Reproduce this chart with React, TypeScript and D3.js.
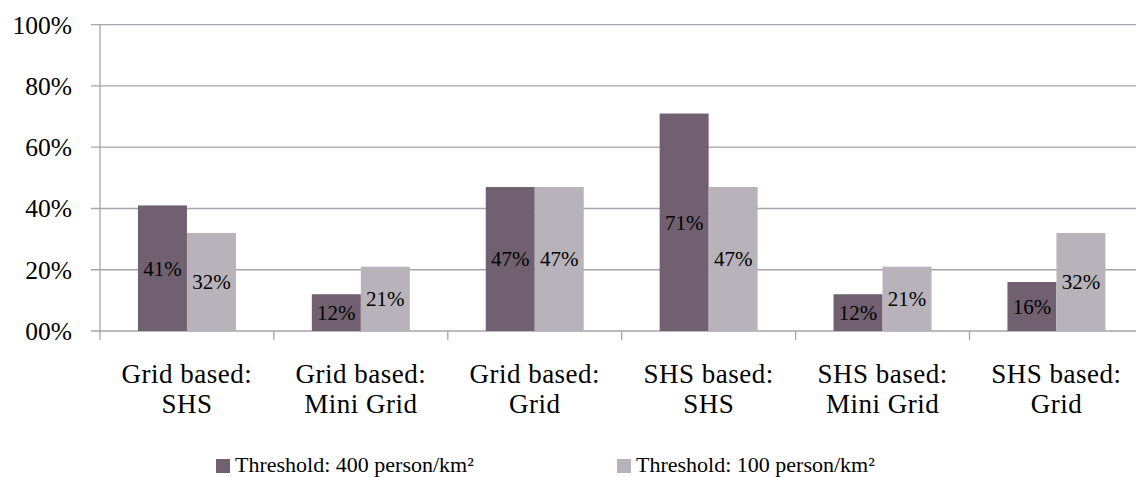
import React from "react";
import * as d3 from "d3";

const categories = [
  ["Grid based:", "SHS"],
  ["Grid based:", "Mini Grid"],
  ["Grid based:", "Grid"],
  ["SHS based:", "SHS"],
  ["SHS based:", "Mini Grid"],
  ["SHS based:", "Grid"],
];
const seriesNames = ["Threshold: 400 person/km²", "Threshold: 100 person/km²"];
const series400 = [0.41, 0.12, 0.47, 0.71, 0.12, 0.16];
const series100 = [0.32, 0.21, 0.47, 0.47, 0.21, 0.32];
const labels400 = ["41%", "12%", "47%", "71%", "12%", "16%"];
const labels100 = ["32%", "21%", "47%", "47%", "21%", "32%"];
const yTicks = [0, 0.2, 0.4, 0.6, 0.8, 1.0];
const yTickLabels = ["00%", "20%", "40%", "60%", "80%", "100%"];
const colors = ["#716070", "#b8b3ba"];

const W = 1136;
const H = 477;
const FONT = "'Liberation Serif', 'Times New Roman', serif";
const GRID = "#a9a2aa";

export default function App() {
  const left = 100;
  const catW = 173.9;
  const keys = categories.map((_, i) => String(i));
  const x0 = d3.scaleBand<string>().domain(keys).range([left, left + catW * categories.length]).paddingInner(0).paddingOuter(0);
  const x1 = d3.scaleBand<string>().domain(["a", "b"]).range([0, x0.bandwidth()]).paddingInner(0).paddingOuter(0.7745);
  const y = d3.scaleLinear().domain([0, 1]).range([331, 24.7]);
  const data = [series400, series100];
  const labs = [labels400, labels100];
  const sk = ["a", "b"];

  return (
    <svg width={W} height={H} style={{ position: "absolute", left: 0, top: 0, background: "#fff" }} fontFamily={FONT}>
      {yTicks.map((t, i) => (
        <g key={"g" + i}>
          <line x1={91} x2={W} y1={y(t)} y2={y(t)} stroke={GRID} strokeWidth={1.3} />
          <text x={72} y={y(t)} dy="0.35em" textAnchor="end" fontSize={25.5} fill="#000">
            {yTickLabels[i]}
          </text>
        </g>
      ))}
      <line x1={left} x2={left} y1={y(1)} y2={340} stroke={GRID} strokeWidth={1.3} />
      {keys.map((k, i) => (
        <line key={"t" + i} x1={(x0(k) as number) + catW} x2={(x0(k) as number) + catW} y1={y(0)} y2={340} stroke={GRID} strokeWidth={1.3} />
      ))}
      {keys.map((k, i) => (
        <g key={"c" + i}>
          {data.map((s, j) => {
            const bx = (x0(k) as number) + (x1(sk[j]) as number);
            const by = y(s[i]);
            return (
              <g key={j}>
                <rect x={bx} y={by} width={x1.bandwidth()} height={y(0) - by} fill={colors[j]} />
                <text x={bx + x1.bandwidth() / 2} y={(by + y(0)) / 2} dy="0.35em" textAnchor="middle" fontSize={21} fill="#000">
                  {labs[j][i]}
                </text>
              </g>
            );
          })}
          <text x={(x0(k) as number) + catW / 2} y={383} textAnchor="middle" fontSize={27} letterSpacing={0.5} fill="#000">
            <tspan x={(x0(k) as number) + catW / 2}>{categories[i][0]}</tspan>
            <tspan x={(x0(k) as number) + catW / 2} dy={30}>{categories[i][1]}</tspan>
          </text>
        </g>
      ))}
      {seriesNames.map((n, j) => {
        const lx = [216, 617][j];
        return (
          <g key={"l" + j}>
            <rect x={lx} y={459} width={14} height={14} fill={colors[j]} />
            <text x={lx + 19} y={472} fontSize={22} fill="#000">
              {n}
            </text>
          </g>
        );
      })}
    </svg>
  );
}
